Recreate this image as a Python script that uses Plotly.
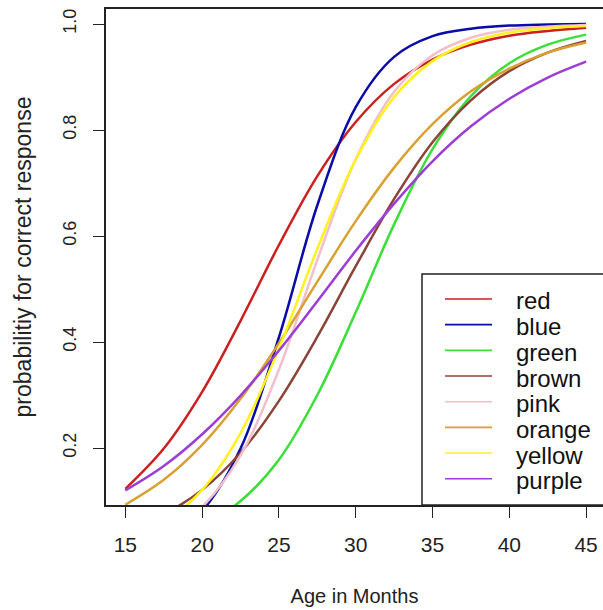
import plotly.graph_objects as go

months = [15, 17.5, 20, 22.5, 25, 27.5, 30, 32.5, 35, 37.5, 40, 42.5, 45]

red = [0.123, 0.199, 0.306, 0.440, 0.583, 0.713, 0.815, 0.887, 0.933, 0.961, 0.978, 0.987, 0.993]
blue = [0.011, 0.031, 0.082, 0.199, 0.409, 0.658, 0.843, 0.938, 0.977, 0.991, 0.997, 0.999, 1.000]
green = [0.014, 0.028, 0.053, 0.100, 0.178, 0.300, 0.456, 0.622, 0.764, 0.864, 0.926, 0.961, 0.980]
brown = [0.045, 0.075, 0.121, 0.191, 0.289, 0.410, 0.543, 0.670, 0.777, 0.856, 0.911, 0.946, 0.968]
pink = [0.017, 0.040, 0.089, 0.186, 0.348, 0.555, 0.745, 0.872, 0.941, 0.974, 0.989, 0.995, 0.998]
orange = [0.093, 0.140, 0.206, 0.293, 0.398, 0.514, 0.628, 0.729, 0.811, 0.873, 0.916, 0.946, 0.965]
yellow = [0.029, 0.060, 0.121, 0.228, 0.388, 0.576, 0.744, 0.862, 0.930, 0.966, 0.984, 0.992, 0.996]
purple = [0.120, 0.166, 0.226, 0.299, 0.384, 0.477, 0.572, 0.661, 0.741, 0.807, 0.859, 0.899, 0.929]

names = ["red", "blue", "green", "brown", "pink", "orange", "yellow", "purple"]
series = [red, blue, green, brown, pink, orange, yellow, purple]
colors = ["#CC1F1F", "#0B0BA6", "#3ADF3A", "#8B4438", "#F2BFCB", "#D9A032", "#FFF21F", "#9B3DD6"]

x_ticks = [15, 20, 25, 30, 35, 40, 45]
y_ticks = [0.2, 0.4, 0.6, 0.8, 1.0]
y_tick_labels = ["0.2", "0.4", "0.6", "0.8", "1.0"]

W, H = 603, 610
L, R, T, B = 106, 0, 9, 105
PW, PH = W - L - R, H - T - B


def px_x(p):
    return (p - L) / PW


def px_y(p):
    return (H - B - p) / PH


fig = go.Figure()
for n, s, c in zip(names, series, colors):
    fig.add_trace(go.Scatter(x=months, y=s, mode="lines", name=n, showlegend=False,
                             line=dict(color=c, width=2.5, shape="spline")))

font = "Liberation Sans, Arial, sans-serif"
ink = "#222222"

# legend drawn as box + line samples + text labels (bottom-right, as in R's legend())
shapes = [dict(type="rect", xref="paper", yref="paper",
               x0=px_x(422), x1=px_x(640), y0=px_y(505), y1=px_y(274),
               line=dict(color=ink, width=1.5), fillcolor="white", layer="above")]
annotations = []
row0, row_gap = 301, 25.67
for i, (n, c) in enumerate(zip(names, colors)):
    yc = row0 + i * row_gap
    shapes.append(dict(type="line", xref="paper", yref="paper",
                       x0=px_x(445), x1=px_x(492), y0=px_y(yc - 2), y1=px_y(yc - 2),
                       line=dict(color=c, width=1.6), layer="above"))
    annotations.append(dict(xref="paper", yref="paper", x=px_x(514), y=px_y(yc),
                            xanchor="left", yanchor="middle", text=n, showarrow=False,
                            font=dict(size=24, color="#111111", family=font)))

fig.update_layout(
    width=W, height=H,
    margin=dict(l=L, r=R, t=T, b=B),
    paper_bgcolor="white", plot_bgcolor="white",
    font=dict(family=font, size=20, color=ink),
    showlegend=False,
    shapes=shapes,
    annotations=annotations,
    xaxis=dict(range=[13.74, 46.10], tickvals=x_ticks, ticks="outside", ticklen=11,
               tickcolor=ink, showline=True, linecolor=ink, linewidth=1.5,
               mirror=True, showgrid=False, zeroline=False, automargin=False,
               tickfont=dict(size=21), ticklabelstandoff=9,
               title=dict(text="Age in Months", standoff=34, font=dict(size=20))),
    yaxis=dict(range=[0.0925, 1.0283], tickvals=y_ticks, ticktext=y_tick_labels,
               ticks="outside", ticklen=11, tickangle=-90,
               tickcolor=ink, showline=True, linecolor=ink, linewidth=1.5,
               mirror=False, showgrid=False, zeroline=False, automargin=False,
               tickfont=dict(size=18), ticklabelstandoff=10,
               title=dict(text="probabilitiy for correct response", standoff=22,
                          font=dict(size=23))),
)

fig.write_html("out.html", config={"displayModeBar": False},
               post_script="document.body.style.margin='0';document.body.style.overflow='hidden';")
